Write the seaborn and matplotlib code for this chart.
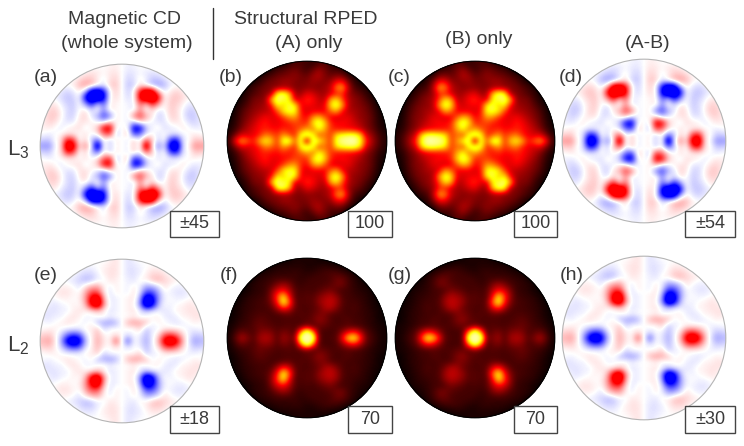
"""
L3 / L2 magnetic CD and structural RPED patterns, 8 circular panels
values read off the picture on a coarse grid (top half, centre row is the last one)
"""
import numpy as np
import matplotlib
matplotlib.use('Agg')
import matplotlib.pyplot as plt
from matplotlib.patches import Circle, Rectangle
import seaborn as sns

# (a) top-left quarter, the right half is the same with the sign flipped
cd_l3_quarter = [
    [0, 0, 0, 0, 0, 0, 0, 0, 0, 0, 0, 2, 3, 0],
    [0, 0, 0, 0, 0, 0, 0, 3, 5, 4, 1, 4, 5, 0],
    [0, 0, 0, 0, 0, 0, 6, 10, 10, 3, -3, 5, 8, 0],
    [0, 0, 0, 0, 0, 3, 12, 18, 14, 3, -4, 8, 10, 0],
    [0, 0, 0, -4, -7, -4, 4, -10, -60, -65, -45, 0, 8, 0],
    [0, 0, -3, -6, -11, -8, 0, -50, -80, -80, -55, 2, 6, 0],
    [0, 3, 4, -3, -8, -10, 1, -20, -45, -12, -30, 3, 2, 0],
    [1, 7, 8, 1, -6, -9, 0, 4, -8, 3, -20, 6, 1, 0],
    [2, 9, 10, 2, -7, -8, 4, 8, -5, -14, -35, -22, 3, 0],
    [3, 8, 6, -1, -5, -4, 5, 5, 2, -3, -10, 6, 2, 0],
    [2, 4, 0, -4, 2, 4, 6, -3, 2, 10, 50, 55, -2, 0],
    [0, -3, -1, 2, 3, 3, 0, 5, -1, 5, 25, 35, -10, 0],
    [-8, -10, 1, 4, 45, 35, -2, 8, -10, -25, 2, -10, 4, 0],
    [-18, -20, -2, 6, 70, 60, 4, 22, -4, -75, 6, -8, 2, 0],
]

# (e) top-left quarter
cd_l2_quarter = [
    [0, 0, 0, 0, 0, 0, 0, 0, 0, 0, 0, 1, 2, 0],
    [0, 0, 0, 0, 0, 0, 0, -1, -1, 0, 1, 2, 2, 0],
    [0, 0, 0, 0, 0, 0, -2, -3, -3, -1, 1, 2, 2, 0],
    [0, 0, 0, 0, -1, -2, -3, -5, -4, -1, -1, 2, 1, 0],
    [0, 0, 0, 1, 1, 0, -2, 2, 5, 6, 1, -1, 1, 0],
    [0, 0, 1, 2, 2, 1, 0, 6, 13, 13, 2, -2, 1, 0],
    [0, -1, 0, 1, 1, 0, 1, 7, 22, 28, 6, -2, -1, 0],
    [0, -1, -2, -1, 0, 1, 0, 5, 22, 30, 8, -1, -1, 0],
    [-1, -2, -2, -1, -1, 1, 2, 1, 2, 4, 1, -2, -1, 0],
    [-2, -2, -1, -1, 1, 2, 1, -1, -1, 0, 1, -1, 0, 0],
    [0, -1, 0, 1, 2, 1, 0, -1, 1, -4, -6, -7, -5, 0],
    [0, 1, 1, 0, -1, -1, -1, 1, 1, 4, -3, 0, 0, 0],
    [3, 4, 1, -3, -10, -14, -12, -2, 1, 5, 1, 0, 2, 0],
    [5, 7, 2, -6, -22, -30, -22, -5, 1, 6, 2, 0, 12, 0],
]

# (b) top half
rped_l3_half = [
    [0, 0, 0, 0, 0, 0, 0, 0, 0, 3, 6, 10, 10, 8, 6, 10, 12, 6, 3, 0, 0, 0, 0, 0, 0, 0, 0],
    [0, 0, 0, 0, 0, 0, 0, 3, 8, 10, 14, 16, 12, 8, 14, 22, 16, 10, 8, 6, 0, 0, 0, 0, 0, 0, 0],
    [0, 0, 0, 0, 0, 2, 6, 10, 14, 16, 18, 20, 16, 14, 22, 26, 18, 14, 18, 16, 6, 2, 0, 0, 0, 0, 0],
    [0, 0, 0, 0, 2, 6, 12, 16, 18, 22, 22, 18, 16, 18, 22, 20, 18, 22, 36, 38, 18, 6, 2, 0, 0, 0, 0],
    [0, 0, 0, 3, 8, 12, 16, 18, 20, 24, 22, 18, 18, 20, 20, 18, 22, 28, 56, 62, 26, 10, 6, 3, 0, 0, 0],
    [0, 0, 1, 6, 10, 14, 18, 22, 78, 86, 66, 24, 22, 34, 30, 24, 22, 30, 40, 42, 22, 16, 12, 6, 2, 0, 0],
    [0, 0, 3, 8, 16, 18, 20, 66, 88, 80, 76, 30, 34, 42, 38, 28, 26, 62, 72, 46, 26, 20, 16, 10, 4, 0, 0],
    [0, 1, 6, 12, 18, 20, 24, 36, 76, 66, 82, 76, 34, 36, 34, 30, 34, 72, 84, 62, 26, 20, 18, 14, 8, 1, 0],
    [0, 3, 10, 16, 20, 24, 26, 30, 46, 74, 80, 78, 38, 30, 34, 34, 34, 52, 62, 36, 26, 24, 20, 16, 10, 3, 0],
    [0, 4, 12, 18, 24, 30, 36, 32, 34, 44, 58, 60, 42, 36, 58, 66, 50, 34, 30, 32, 34, 26, 20, 18, 12, 4, 0],
    [1, 6, 14, 22, 28, 36, 40, 34, 34, 36, 40, 46, 44, 42, 72, 86, 70, 42, 36, 38, 34, 30, 24, 18, 12, 5, 1],
    [2, 8, 18, 26, 32, 38, 40, 38, 36, 42, 38, 44, 50, 62, 52, 78, 62, 44, 38, 36, 36, 34, 28, 20, 14, 6, 2],
    [5, 18, 32, 30, 34, 40, 56, 50, 44, 60, 50, 40, 80, 90, 80, 46, 54, 44, 72, 80, 84, 84, 70, 30, 20, 10, 4],
    [8, 40, 62, 50, 38, 64, 76, 68, 42, 84, 86, 50, 86, 12, 88, 78, 60, 44, 82, 90, 92, 94, 80, 42, 24, 12, 4],
]

# (f) top half
rped_l2_half = [
    [0, 0, 0, 0, 0, 0, 0, 0, 0, 0, 1, 2, 2, 2, 2, 1, 1, 0, 0, 0, 0, 0, 0, 0, 0, 0, 0],
    [0, 0, 0, 0, 0, 0, 0, 1, 2, 3, 3, 3, 3, 2, 2, 3, 4, 3, 2, 1, 0, 0, 0, 0, 0, 0, 0],
    [0, 0, 0, 0, 0, 1, 2, 3, 4, 4, 4, 5, 4, 3, 4, 5, 6, 7, 7, 5, 3, 1, 0, 0, 0, 0, 0],
    [0, 0, 0, 0, 1, 3, 4, 5, 6, 6, 6, 5, 4, 5, 6, 6, 6, 7, 10, 10, 6, 3, 1, 0, 0, 0, 0],
    [0, 0, 0, 1, 3, 4, 5, 7, 12, 16, 12, 6, 5, 6, 6, 6, 7, 8, 11, 11, 6, 4, 2, 1, 0, 0, 0],
    [0, 0, 0, 1, 3, 4, 5, 12, 22, 26, 18, 8, 6, 7, 6, 8, 10, 12, 8, 6, 6, 4, 3, 2, 1, 0, 0],
    [0, 0, 1, 3, 4, 5, 6, 14, 32, 52, 26, 8, 7, 8, 8, 12, 16, 18, 14, 7, 6, 5, 4, 3, 1, 0, 0],
    [0, 0, 2, 4, 5, 6, 7, 12, 28, 56, 36, 10, 7, 8, 8, 14, 18, 20, 16, 8, 6, 6, 5, 3, 2, 0, 0],
    [0, 1, 3, 4, 5, 6, 6, 8, 16, 28, 22, 9, 7, 7, 8, 10, 16, 18, 12, 7, 6, 7, 5, 4, 2, 1, 0],
    [0, 1, 3, 5, 6, 7, 7, 6, 7, 8, 9, 7, 8, 7, 9, 12, 12, 8, 7, 7, 6, 6, 5, 4, 3, 1, 0],
    [0, 2, 4, 5, 7, 9, 8, 7, 6, 7, 7, 7, 7, 8, 10, 14, 12, 8, 6, 7, 8, 6, 6, 4, 3, 1, 0],
    [1, 3, 5, 6, 8, 10, 9, 8, 7, 7, 8, 7, 8, 12, 8, 10, 9, 7, 7, 7, 8, 7, 6, 5, 3, 2, 1],
    [1, 6, 10, 8, 7, 12, 14, 12, 8, 12, 10, 7, 42, 72, 42, 8, 6, 6, 7, 14, 24, 28, 18, 8, 5, 2, 1],
    [2, 9, 18, 12, 8, 16, 18, 16, 8, 16, 12, 12, 72, 60, 72, 10, 6, 7, 8, 26, 50, 56, 32, 10, 6, 3, 1],
]

panel_tags = ['(a)', '(b)', '(c)', '(d)', '(e)', '(f)', '(g)', '(h)']
scale_labels = ['±45', '100', '100', '±54', '±18', '70', '70', '±30']
color_limits = [45, 100, 100, 54, 18, 70, 70, 30]

W, H = 744, 446


def fx(x):
    return x / W


def fy(y):
    return 1 - y / H


def full_from_quarter(quarter):
    # left half + mirrored right half with opposite sign, then top + bottom
    q = np.array(quarter, dtype=float)
    top = np.hstack([q, -q[:, -2::-1]])
    return np.vstack([top, top[-2::-1]])


def full_from_half(half):
    h = np.array(half, dtype=float)
    return np.vstack([h, h[-2::-1]])


panel_a = full_from_quarter(cd_l3_quarter)
panel_b = full_from_half(rped_l3_half)
panel_c = panel_b[:, ::-1]
panel_d = -panel_a * 54 / 45
panel_e = full_from_quarter(cd_l2_quarter)
panel_f = full_from_half(rped_l2_half)
panel_g = panel_f[:, ::-1]
panel_h = panel_e * 30 / 18

panels = [panel_a, panel_b, panel_c, panel_d, panel_e, panel_f, panel_g, panel_h]

# centre x, centre y, radius in pixels
geometry = [(122, 146, 82), (307, 141, 80), (475, 141, 80), (644, 141, 82),
            (122, 341, 82), (307, 338, 80), (475, 338, 80), (644, 338, 82)]
tag_pos = [(46, 78), (231, 78), (399, 78), (571, 78),
           (46, 276), (229, 276), (400, 276), (572, 276)]
box_pos = [(170, 211, 219, 237), (348, 211, 392, 237), (514, 211, 557, 237), (685, 211, 735, 237),
           (170, 406, 219, 433), (348, 406, 392, 433), (514, 406, 557, 433), (685, 406, 735, 433)]

sns.set_theme(style='white')
plt.rcParams['font.family'] = ['Liberation Sans', 'DejaVu Sans']
plt.rcParams['mathtext.default'] = 'regular'

fig = plt.figure(figsize=(W / 100, H / 100), dpi=100)
text_color = '#3a3a3a'

for i, data in enumerate(panels):
    cx, cy, r = geometry[i]
    ax = fig.add_axes([fx(cx - r), fy(cy + r), 2 * r / W, 2 * r / H])
    is_cd = i in (0, 3, 4, 7)
    if is_cd:
        sns.heatmap(data, ax=ax, cmap='bwr', vmin=-color_limits[i], vmax=color_limits[i],
                    cbar=False, xticklabels=False, yticklabels=False)
    else:
        sns.heatmap(data, ax=ax, cmap='hot', vmin=0, vmax=color_limits[i],
                    cbar=False, xticklabels=False, yticklabels=False)
    mesh = ax.collections[0]
    n = data.shape[0]
    # same cells, only shown smooth like the blurred original
    im = ax.imshow(data, cmap=mesh.cmap, norm=mesh.norm, interpolation='bicubic',
                   extent=(0, n, n, 0), aspect='auto', zorder=3)
    ax.set_xlim(0, n)
    ax.set_ylim(n, 0)
    disc = Circle((n / 2, n / 2), n / 2, transform=ax.transData)
    mesh.set_clip_path(disc)
    im.set_clip_path(disc)
    ax.add_patch(Circle((n / 2, n / 2), n / 2 - 0.03, fill=False, clip_on=False, zorder=4,
                        edgecolor='#b5b5b5' if is_cd else 'black', linewidth=0.8))
    ax.axis('off')

    fig.text(fx(tag_pos[i][0]), fy(tag_pos[i][1]), panel_tags[i], fontsize=14,
             color=text_color, ha='center', va='center')
    x0, y0, x1, y1 = box_pos[i]
    fig.add_artist(Rectangle((fx(x0), fy(y1)), (x1 - x0) / W, (y1 - y0) / H, transform=fig.transFigure,
                             facecolor='white', edgecolor='#444444', linewidth=1.0, zorder=2))
    fig.text(fx((x0 + x1) / 2), fy((y0 + y1) / 2), scale_labels[i], fontsize=13,
             color=text_color, ha='center', va='center', zorder=3)

# headers
fig.text(fx(124), fy(20), 'Magnetic CD', fontsize=14, color=text_color, ha='center', va='center')
fig.text(fx(127), fy(43), '(whole system)', fontsize=14, color=text_color, ha='center', va='center')
fig.text(fx(306), fy(20), 'Structural RPED', fontsize=14, color=text_color, ha='center', va='center')
fig.text(fx(309), fy(43), '(A) only', fontsize=14, color=text_color, ha='center', va='center')
fig.text(fx(479), fy(40), '(B) only', fontsize=14, color=text_color, ha='center', va='center')
fig.text(fx(648), fy(43), '(A-B)', fontsize=14, color=text_color, ha='center', va='center')
fig.add_artist(plt.Line2D([fx(213), fx(213)], [fy(8), fy(59)], color='#333333', linewidth=1.0))

# row labels
fig.text(fx(18), fy(150), 'L$_3$', fontsize=16, color=text_color, ha='center', va='center')
fig.text(fx(18), fy(346), 'L$_2$', fontsize=16, color=text_color, ha='center', va='center')

fig.savefig('out.png', dpi=100)
